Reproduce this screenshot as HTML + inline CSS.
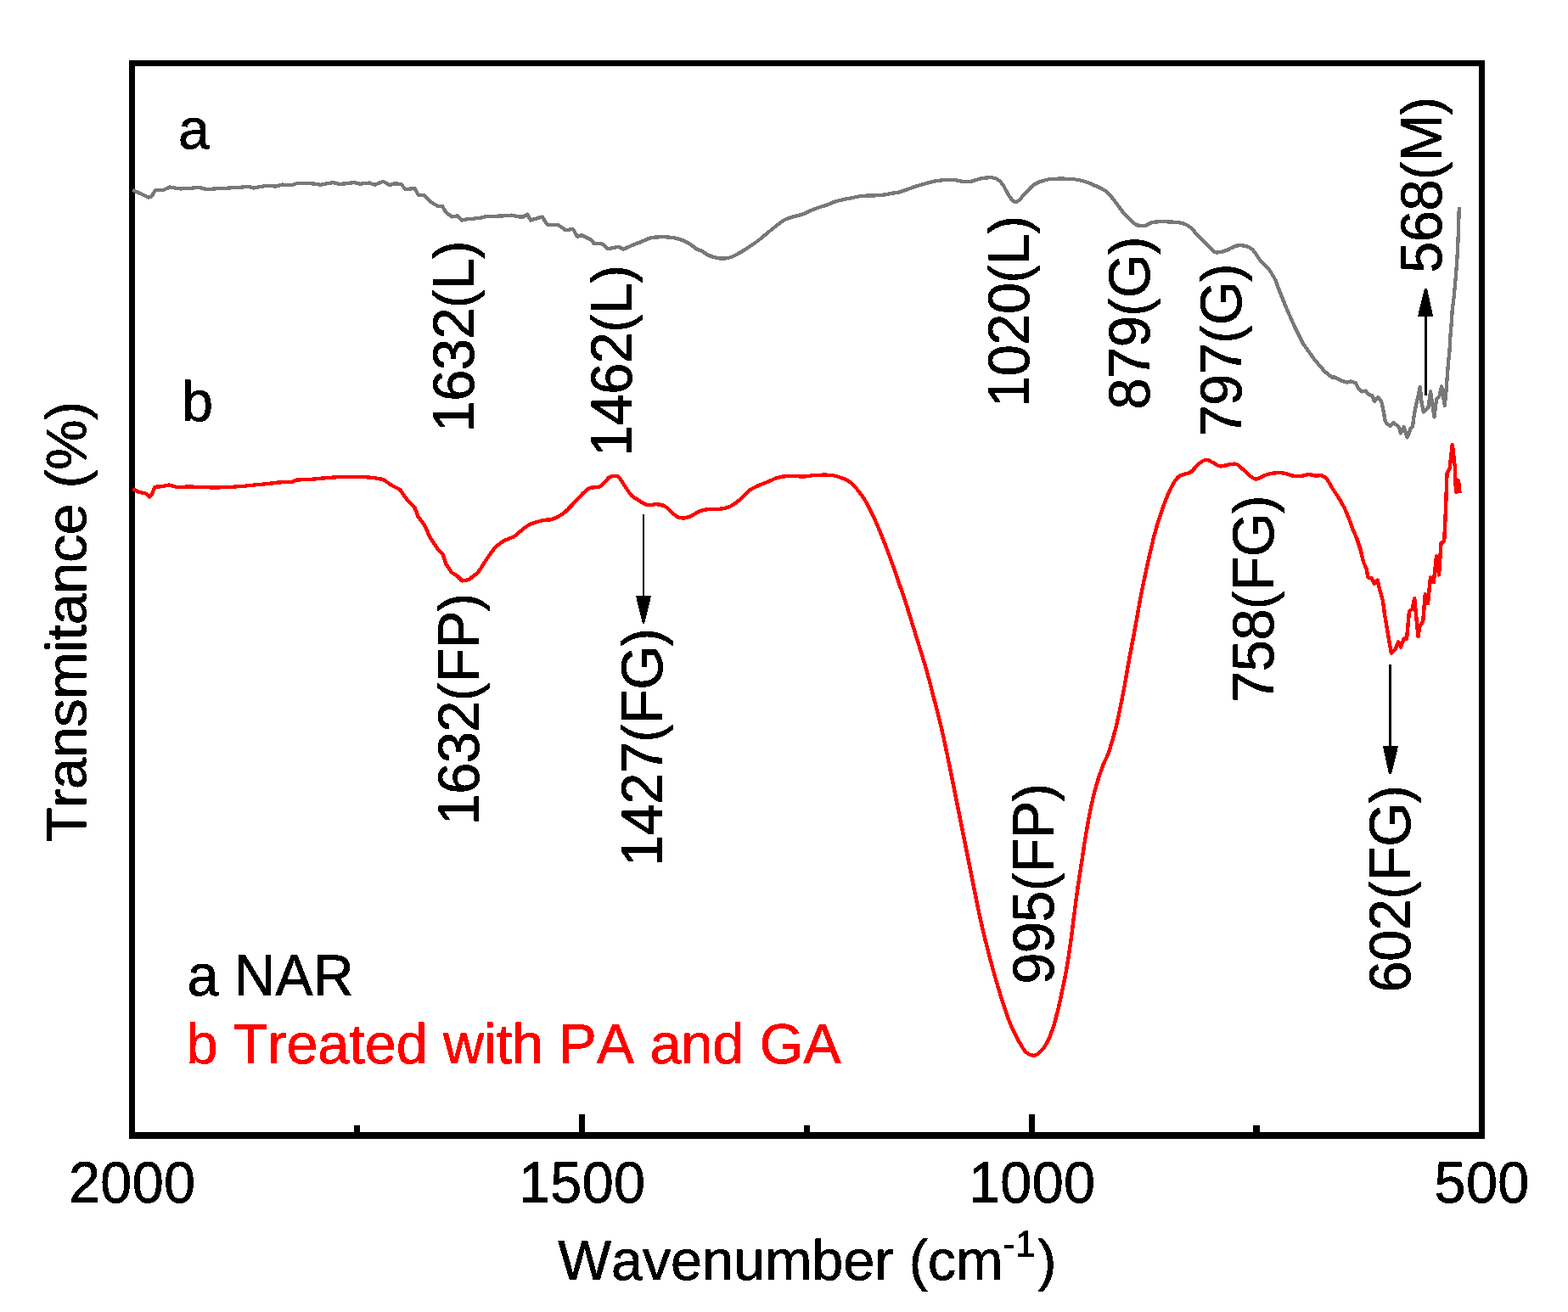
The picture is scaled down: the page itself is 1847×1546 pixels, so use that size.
<!DOCTYPE html>
<html lang="en">
<head>
<meta charset="utf-8">
<title>FTIR spectra: NAR and treated with PA and GA</title>
<style>
html,body{margin:0;padding:0;background:#ffffff;}
body{width:1847px;height:1546px;overflow:hidden;}
svg{display:block;}
text{font-family:"Liberation Sans", Arial, Helvetica, sans-serif;font-size:66.67px;fill:#000;stroke:#000;stroke-width:0.5px;stroke-linejoin:round;font-kerning:none;font-variant-ligatures:none;text-rendering:geometricPrecision;white-space:pre;}
.rot{letter-spacing:-0.5px;}
.red{fill:#ff0000;stroke:#ff0000;}
</style>
</head>
<body>
<svg width="1847" height="1546" viewBox="0 0 1847 1546">
<defs>
<filter id="crisp" filterUnits="userSpaceOnUse" x="0" y="0" width="1847" height="1546" color-interpolation-filters="sRGB">
<feComponentTransfer><feFuncA type="discrete" tableValues="0 0 1 1 1"/></feComponentTransfer>
</filter>
</defs>
<rect x="0" y="0" width="1847" height="1546" fill="#ffffff"/>
<g filter="url(#crisp)">
<rect x="155.5" y="74.5" width="1590" height="1263.5" fill="none" stroke="#000" stroke-width="7"/>
<rect x="152" y="1334" width="1597" height="8" fill="#000"/>
<rect x="682.0" y="1313" width="7" height="22" fill="#000"/>
<rect x="1212.0" y="1313" width="7" height="22" fill="#000"/>
<rect x="417" y="1326" width="7" height="9" fill="#000"/>
<rect x="947" y="1326" width="7" height="9" fill="#000"/>
<rect x="1476" y="1326" width="8" height="9" fill="#000"/>
<path d="M156.2 223.8L175.0 232.5L178.8 231.2L182.5 224.5L192.5 223.8L200.0 220.5L212.5 222.5L235.0 221.0L242.5 223.0L275.0 221.2L292.5 220.0L298.8 221.5L312.5 219.0L325.0 219.5L332.5 217.5L343.8 218.2L350.0 215.8L370.0 216.5L377.5 217.8L392.5 215.0L400.0 217.0L417.5 215.0L423.8 216.8L435.0 215.5L441.2 217.8L451.2 213.8L458.8 218.0L465.0 216.2L472.5 217.0L477.5 223.0L488.8 222.0L492.5 229.5L500.0 230.5L507.5 238.0L515.0 242.5L521.2 243.0L525.0 250.0L532.5 255.5L538.8 254.2L543.8 259.5L550.0 258.2L565.0 257.0L572.5 255.0L597.5 254.2L602.5 253.5L611.8 255.5L616.2 255.5L621.2 252.5L625.0 259.5L638.8 255.5L644.5 264.5L657.5 265.0L666.2 271.2L675.0 270.0L680.0 278.8L685.0 277.0L695.0 281.8L700.0 287.0L710.0 287.5L716.2 293.2L728.8 290.8L733.8 293.8L745.0 288.8C748.5 287.3 751.2 286.5 755.0 285.0C758.8 283.5 762.9 281.0 767.5 280.0C772.1 279.0 778.3 279.2 782.5 279.2C786.7 279.2 789.0 279.4 792.5 280.0C796.0 280.6 800.5 281.8 803.8 283.0C807.1 284.2 809.6 285.7 812.5 287.5C815.4 289.3 818.7 292.4 821.2 293.8C823.7 295.2 825.4 295.1 827.5 296.2C829.6 297.3 830.7 299.2 833.8 300.5C836.9 301.8 842.2 303.6 846.2 304.2C850.2 304.8 854.0 304.7 857.5 304.0C861.0 303.3 863.8 301.9 867.5 300.0C871.2 298.1 875.4 295.5 880.0 292.5C884.6 289.5 889.6 286.2 895.0 282.0C900.4 277.8 907.5 271.4 912.5 267.5C917.5 263.6 921.5 260.8 925.0 258.8C928.5 256.8 930.7 256.5 933.8 255.5C936.9 254.5 939.4 254.6 943.8 253.0C948.2 251.4 954.8 248.2 960.0 246.2C965.2 244.2 971.0 242.6 975.0 241.2C979.0 239.8 979.6 238.7 983.8 237.5C988.0 236.3 994.4 234.9 1000.0 233.8C1005.6 232.7 1011.2 231.4 1017.5 230.8C1023.8 230.2 1031.7 230.6 1037.5 230.0C1043.3 229.4 1048.8 228.1 1052.5 227.5C1056.2 226.9 1055.4 227.6 1060.0 226.2C1064.6 224.8 1072.7 221.4 1080.0 219.2C1087.3 217.0 1096.7 214.2 1103.8 213.0C1110.9 211.8 1117.5 211.9 1122.5 212.0C1127.5 212.1 1130.2 213.5 1133.8 213.8C1137.3 214.1 1140.3 214.4 1143.8 213.8C1147.3 213.2 1151.0 211.3 1155.0 210.5C1159.0 209.7 1164.2 209.1 1167.5 209.2C1170.8 209.3 1172.7 209.8 1175.0 211.2C1177.3 212.6 1179.1 214.6 1181.2 217.5C1183.3 220.4 1185.4 225.6 1187.5 228.8C1189.6 232.1 1191.9 235.6 1193.8 237.0C1195.7 238.4 1196.5 238.5 1198.8 237.0C1201.1 235.5 1204.4 231.2 1207.5 228.0C1210.6 224.8 1214.2 220.5 1217.5 218.0C1220.8 215.5 1223.8 214.4 1227.5 213.2C1231.2 212.0 1234.6 211.2 1240.0 210.8C1245.4 210.4 1254.2 210.4 1260.0 210.8C1265.8 211.2 1270.0 211.7 1275.0 213.0C1280.0 214.3 1285.2 216.6 1290.0 218.8C1294.8 221.0 1300.0 223.3 1303.8 226.2C1307.5 229.1 1309.2 232.0 1312.5 236.2C1315.8 240.4 1320.5 247.2 1323.8 251.2C1327.1 255.2 1330.0 257.7 1332.5 260.0C1335.0 262.3 1336.1 264.0 1338.8 265.0C1341.5 266.0 1345.7 266.3 1348.8 265.8C1351.9 265.3 1354.4 262.8 1357.5 262.0C1360.6 261.2 1362.5 261.2 1367.5 261.2C1372.5 261.2 1382.1 261.2 1387.5 262.0C1392.9 262.8 1396.2 263.8 1400.0 266.2C1403.8 268.6 1406.2 272.4 1410.0 276.2C1413.8 280.0 1419.0 285.3 1422.5 288.8C1426.0 292.3 1427.9 295.8 1431.2 297.0C1434.5 298.2 1438.5 297.0 1442.5 295.8C1446.5 294.6 1451.2 291.1 1455.0 290.0C1458.8 288.9 1461.7 288.9 1465.0 289.5C1468.3 290.1 1471.7 290.8 1475.0 293.8C1478.3 296.8 1481.7 303.6 1485.0 307.5C1488.3 311.4 1492.1 313.8 1495.0 317.5L1502.5 330.0L1505.0 337.5L1515.0 362.5L1525.0 385.0L1535.0 405.0L1547.5 422.5L1560.0 437.4L1568.7 444.4L1571.9 444.4L1580.6 448.7L1587.1 450.4L1591.4 449.3L1596.8 451.4L1600.1 457.9L1604.4 461.5L1608.7 460.6L1612.0 465.0L1616.3 466.1L1619.0 473.1L1623.3 468.2L1627.1 472.6L1629.3 482.3L1631.5 495.3L1633.6 499.6L1637.4 501.8L1641.2 498.0L1647.7 502.9L1649.9 510.4L1653.7 502.9L1657.5 515.3L1660.2 509.4L1661.2 505.0L1664.0 502.3L1666.1 486.6L1668.3 475.8L1670.4 467.1L1672.6 455.8L1674.8 475.8L1676.9 485.5L1682.4 480.1L1685.1 461.2L1687.2 475.8L1689.4 491.5L1692.1 470.4L1695.4 467.1L1698.1 455.2L1701.8 478.0L1703.7 457.7L1704.7 444.2L1705.9 428.7L1707.5 413.2L1708.3 397.6L1709.6 382.0L1710.6 366.6L1712.5 351.0L1714.0 335.5L1715.3 320.0L1717.0 295.0L1718.0 270.0L1718.8 243.8" fill="none" stroke="#787878" stroke-width="4.1" stroke-linejoin="round" stroke-linecap="butt"/>
<path d="M156.2 576.2L163.8 580.0L171.2 581.2L176.2 585.8L178.8 582.5L182.5 573.8L190.0 573.2L198.8 571.5L207.5 573.8L225.0 573.5L250.0 574.5C257.1 574.6 261.7 574.2 267.5 574.0C273.3 573.8 277.9 573.6 285.0 573.0C292.1 572.4 302.1 571.3 310.0 570.5C317.9 569.7 326.7 568.7 332.5 568.2C338.3 567.7 342.1 568.0 345.0 567.5C347.9 567.0 345.8 566.0 350.0 565.5C354.2 565.0 362.9 565.0 370.0 564.5C377.1 564.0 384.2 563.0 392.5 562.5C400.8 562.0 412.9 561.8 420.0 561.8C427.1 561.8 429.6 561.9 435.0 562.5C440.4 563.1 448.3 564.0 452.5 565.5L460.0 571.2L471.2 577.0L480.0 589.5L488.8 598.8L492.5 608.8L500.0 618.8L507.5 635.0L516.2 647.5L521.2 652.5L525.0 663.8L532.5 675.0L538.8 678.8L544.5 684.5L552.5 683.0L562.5 675.0C565.8 671.2 569.2 664.8 572.5 660.0C575.8 655.2 579.2 649.9 582.5 646.2C585.8 642.5 588.8 640.3 592.5 638.0C596.2 635.7 601.8 634.3 605.0 632.5C608.2 630.7 608.9 629.3 611.8 627.0C614.7 624.7 617.8 621.1 622.5 618.8C627.2 616.5 635.4 614.1 640.0 613.0C644.6 611.9 645.8 613.5 650.0 612.0C654.2 610.5 660.4 607.3 665.0 603.8C669.6 600.3 672.9 595.8 677.5 591.2C682.1 586.6 687.9 579.1 692.5 576.2C697.1 573.3 702.1 574.7 705.0 573.8C707.9 572.9 707.9 572.7 710.0 570.8C712.1 568.9 715.4 564.1 717.5 562.5C719.6 560.9 720.6 561.1 722.5 561.0C724.4 560.9 726.7 560.3 728.8 562.0C730.9 563.7 732.5 567.6 735.0 571.2C737.5 574.8 741.1 580.9 743.8 583.8C746.5 586.7 748.1 586.9 751.2 588.8C754.3 590.7 759.0 594.1 762.5 595.0C766.0 595.9 769.2 594.0 772.5 594.2C775.8 594.4 779.6 594.8 782.5 596.2C785.4 597.6 787.5 600.4 790.0 602.5C792.5 604.6 795.0 607.5 797.5 608.8C800.0 610.1 802.5 610.5 805.0 610.5C807.5 610.5 809.2 610.2 812.5 608.8C815.8 607.4 821.2 603.5 825.0 602.0C828.8 600.5 830.8 600.4 835.0 600.0C839.2 599.6 845.8 600.0 850.0 599.5C854.2 599.0 856.7 598.4 860.0 596.8C863.3 595.2 866.2 593.1 870.0 590.0C873.8 586.9 878.8 580.9 882.5 578.0C886.2 575.1 888.8 574.2 892.5 572.5C896.2 570.8 901.2 569.0 905.0 567.5C908.8 566.0 911.2 564.3 915.0 563.2C918.8 562.1 922.1 561.1 927.5 560.8C932.9 560.5 942.1 561.6 947.5 561.5C952.9 561.4 954.6 560.2 960.0 560.0C965.4 559.8 974.6 559.4 980.0 560.0C985.4 560.6 988.8 562.0 992.5 563.5C996.2 565.0 999.6 566.5 1002.5 568.8C1005.4 571.0 1007.1 573.3 1010.0 577.0C1012.9 580.7 1016.7 585.5 1020.0 591.2C1023.3 596.9 1026.7 603.9 1030.0 611.2C1033.3 618.5 1036.7 626.7 1040.0 635.0C1043.3 643.3 1046.7 652.0 1050.0 661.2C1053.3 670.4 1056.7 680.2 1060.0 690.0C1063.3 699.8 1066.7 709.6 1070.0 720.0C1073.3 730.4 1076.7 741.7 1080.0 752.5C1083.3 763.3 1086.7 773.3 1090.0 785.0C1093.3 796.7 1096.7 809.6 1100.0 822.5C1103.3 835.4 1107.5 852.0 1110.0 862.5C1112.5 873.0 1113.3 877.9 1115.0 885.8C1116.7 893.7 1117.9 899.7 1120.0 910.0C1122.1 920.3 1125.0 935.0 1127.5 947.5C1130.0 960.0 1132.5 972.5 1135.0 985.0C1137.5 997.5 1140.0 1010.0 1142.5 1022.5C1145.0 1035.0 1147.5 1047.9 1150.0 1060.0C1152.5 1072.1 1155.0 1084.2 1157.5 1095.0C1160.0 1105.8 1162.5 1115.4 1165.0 1125.0C1167.5 1134.6 1170.0 1143.8 1172.5 1152.5C1175.0 1161.2 1177.5 1169.6 1180.0 1177.5C1182.5 1185.4 1185.0 1193.3 1187.5 1200.0C1190.0 1206.7 1192.5 1212.3 1195.0 1217.5C1197.5 1222.7 1200.2 1227.5 1202.5 1231.2C1204.8 1235.0 1206.3 1237.9 1208.8 1240.0C1211.3 1242.1 1214.8 1243.8 1217.5 1243.8C1220.2 1243.8 1222.5 1242.3 1225.0 1240.0C1227.5 1237.7 1230.0 1234.6 1232.5 1230.0C1235.0 1225.4 1237.7 1219.2 1240.0 1212.5C1242.3 1205.8 1244.3 1197.5 1246.2 1190.0C1248.1 1182.5 1249.5 1175.4 1251.2 1167.5C1252.9 1159.6 1254.5 1152.1 1256.2 1142.5C1257.9 1132.9 1259.7 1120.4 1261.2 1110.0C1262.7 1099.6 1263.5 1091.2 1265.0 1080.0C1266.5 1068.8 1268.3 1054.2 1270.0 1042.5C1271.7 1030.8 1273.5 1019.6 1275.0 1010.0C1276.5 1000.4 1277.3 993.8 1278.8 985.0C1280.3 976.2 1282.1 965.8 1283.8 957.5C1285.5 949.2 1287.1 941.7 1288.8 935.0C1290.5 928.3 1291.9 923.3 1293.8 917.5C1295.7 911.7 1297.9 905.3 1300.0 900.0C1302.1 894.7 1303.7 893.3 1306.2 885.8C1308.7 878.3 1312.1 867.2 1315.0 855.0C1317.9 842.8 1321.3 825.4 1323.8 812.5C1326.3 799.6 1327.7 790.0 1330.0 777.5C1332.3 765.0 1335.2 750.0 1337.5 737.5C1339.8 725.0 1341.7 713.3 1343.8 702.5C1345.9 691.7 1348.1 681.2 1350.0 672.5C1351.9 663.8 1353.1 657.9 1355.0 650.0C1356.9 642.1 1359.1 632.5 1361.2 625.0C1363.3 617.5 1365.4 611.2 1367.5 605.0C1369.6 598.8 1371.5 593.1 1373.8 587.5C1376.1 581.9 1378.9 575.4 1381.2 571.2C1383.5 567.0 1385.6 564.5 1387.5 562.5C1389.4 560.5 1390.0 560.5 1392.5 559.5C1395.0 558.5 1399.2 558.4 1402.5 556.2C1405.8 554.0 1409.4 548.6 1412.5 546.2C1415.6 543.8 1418.5 542.2 1421.2 542.0C1423.9 541.8 1426.1 543.8 1428.8 545.0C1431.5 546.2 1434.0 549.2 1437.5 549.5C1441.0 549.8 1446.7 547.3 1450.0 547.0C1453.3 546.7 1454.6 546.0 1457.5 547.5C1460.4 549.0 1464.0 553.4 1467.5 556.2C1471.0 559.0 1475.0 563.9 1478.8 564.5C1482.5 565.1 1486.5 561.2 1490.0 560.0C1493.5 558.8 1496.2 557.9 1500.0 557.5C1503.8 557.1 1508.8 557.0 1512.5 557.5C1516.2 558.0 1519.4 559.9 1522.5 560.5C1525.6 561.1 1528.1 561.4 1531.2 561.2C1534.3 561.0 1538.1 559.3 1541.2 559.2C1544.3 559.1 1547.3 560.3 1550.0 560.5C1552.7 560.7 1555.2 559.7 1557.5 560.5C1559.8 561.3 1561.7 562.9 1563.8 565.5L1570.0 576.2L1577.5 587.5L1583.8 598.8L1590.0 613.8L1593.8 625.0L1597.5 632.5L1602.5 647.5L1606.2 662.5L1609.5 670.0L1611.5 680.5L1616.0 681.5L1619.0 688.0L1622.6 683.5L1625.0 694.0L1628.8 707.5L1631.2 725.0L1633.8 740.0L1636.2 755.0L1638.8 769.5L1643.8 764.5L1647.0 756.2L1650.0 762.5L1653.8 752.5L1657.0 753.0L1660.0 720.0L1663.8 717.5L1666.2 705.0L1668.8 732.5L1670.5 750.0L1672.5 737.5L1676.2 732.5L1678.8 700.0L1682.0 711.2L1685.0 680.0L1688.8 686.2L1692.0 655.0L1695.0 677.5L1697.5 640.0L1701.2 637.5L1703.0 600.0L1704.5 557.5L1707.5 552.5L1710.8 523.8L1713.8 550.0L1715.0 580.0L1718.0 566.2L1719.5 581.2" fill="none" stroke="#ff0000" stroke-width="4.2" stroke-linejoin="round" stroke-linecap="butt"/>
<text transform="translate(155.65,1417) scale(1,1.03)" text-anchor="middle" style="letter-spacing:0.3px">2000</text>
<text transform="translate(685.65,1417) scale(1,1.03)" text-anchor="middle" style="letter-spacing:0.3px">1500</text>
<text transform="translate(1215.65,1417) scale(1,1.03)" text-anchor="middle" style="letter-spacing:0.3px">1000</text>
<text transform="translate(1745.65,1417) scale(1,1.03)" text-anchor="middle" style="letter-spacing:0.3px">500</text>
<text x="657.2" y="1508" style="letter-spacing:-0.13px">Wavenumber (cm<tspan font-size="44" dy="-27.5">-1</tspan><tspan dy="27.5" dx="2">)</tspan></text>
<text transform="translate(101.25,991.9) rotate(-90)" style="letter-spacing:-0.45px">Transmitance (%)</text>
<text x="210" y="174.5">a</text>
<text x="214" y="495.6">b</text>
<text transform="translate(220.4,1172.5) scale(1,1.03)">a NAR</text>
<text x="219.45" y="1253" class="red" style="letter-spacing:-0.13px">b Treated with PA and GA</text>
<text class="rot" transform="translate(558.00,509.3) rotate(-90) scale(1,1.03)">1632<tspan font-size="63.4" dy="-0.9" style="letter-spacing:0.59px">(</tspan><tspan font-size="66.67" dy="0.9" style="letter-spacing:-0.50px">L</tspan><tspan font-size="63.4" dy="-0.9" style="letter-spacing:0.59px">)</tspan></text>
<text class="rot" transform="translate(743.80,538.0) rotate(-90) scale(1,1.03)">1462<tspan font-size="63.4" dy="-0.9" style="letter-spacing:0.59px">(</tspan><tspan font-size="66.67" dy="0.9" style="letter-spacing:-0.50px">L</tspan><tspan font-size="63.4" dy="-0.9" style="letter-spacing:0.59px">)</tspan></text>
<text class="rot" transform="translate(1211.80,479.8) rotate(-90) scale(1,1.03)">1020<tspan font-size="63.4" dy="-0.9" style="letter-spacing:0.59px">(</tspan><tspan font-size="66.67" dy="0.9" style="letter-spacing:-0.50px">L</tspan><tspan font-size="63.4" dy="-0.9" style="letter-spacing:0.59px">)</tspan></text>
<text class="rot" transform="translate(1354.20,482.5) rotate(-90) scale(1,1.03)">879<tspan font-size="63.4" dy="-0.9" style="letter-spacing:0.59px">(</tspan><tspan font-size="66.67" dy="0.9" style="letter-spacing:-0.50px">G</tspan><tspan font-size="63.4" dy="-0.9" style="letter-spacing:0.59px">)</tspan></text>
<text class="rot" transform="translate(1462.00,514.5) rotate(-90) scale(1,1.03)">797<tspan font-size="63.4" dy="-0.9" style="letter-spacing:0.59px">(</tspan><tspan font-size="66.67" dy="0.9" style="letter-spacing:-0.50px">G</tspan><tspan font-size="63.4" dy="-0.9" style="letter-spacing:0.59px">)</tspan></text>
<text class="rot" transform="translate(1697.60,321.7) rotate(-90) scale(1,1.03)">568<tspan font-size="63.4" dy="-0.9" style="letter-spacing:0.59px">(</tspan><tspan font-size="66.67" dy="0.9" style="letter-spacing:-0.50px">M</tspan><tspan font-size="63.4" dy="-0.9" style="letter-spacing:0.59px">)</tspan></text>
<text class="rot" transform="translate(563.80,972.4) rotate(-90) scale(1,1.03)">1632<tspan font-size="63.4" dy="-0.9" style="letter-spacing:0.59px">(</tspan><tspan font-size="66.67" dy="0.9" style="letter-spacing:-0.50px">FP</tspan><tspan font-size="63.4" dy="-0.9" style="letter-spacing:0.59px">)</tspan></text>
<text class="rot" transform="translate(779.60,1021.0) rotate(-90) scale(1,1.03)">1427<tspan font-size="63.4" dy="-0.9" style="letter-spacing:0.59px">(</tspan><tspan font-size="66.67" dy="0.9" style="letter-spacing:-0.50px">FG</tspan><tspan font-size="63.4" dy="-0.9" style="letter-spacing:0.59px">)</tspan></text>
<text class="rot" transform="translate(1241.20,1159.8) rotate(-90) scale(1,1.03)">995<tspan font-size="63.4" dy="-0.9" style="letter-spacing:0.59px">(</tspan><tspan font-size="66.67" dy="0.9" style="letter-spacing:-0.50px">FP</tspan><tspan font-size="63.4" dy="-0.9" style="letter-spacing:0.59px">)</tspan></text>
<text class="rot" transform="translate(1500.00,827.7) rotate(-90) scale(1,1.03)">758<tspan font-size="63.4" dy="-0.9" style="letter-spacing:0.59px">(</tspan><tspan font-size="66.67" dy="0.9" style="letter-spacing:-0.50px">FG</tspan><tspan font-size="63.4" dy="-0.9" style="letter-spacing:0.59px">)</tspan></text>
<text class="rot" transform="translate(1661.00,1169.4) rotate(-90) scale(1,1.03)">602<tspan font-size="63.4" dy="-0.9" style="letter-spacing:0.59px">(</tspan><tspan font-size="66.67" dy="0.9" style="letter-spacing:-0.50px">FG</tspan><tspan font-size="63.4" dy="-0.9" style="letter-spacing:0.59px">)</tspan></text>
<rect x="1678" y="373" width="3" height="93" fill="#000"/>
<polygon points="1670,373 1688,373 1681,340 1678,340" fill="#000"/>
<rect x="757" y="606" width="2" height="97" fill="#000"/>
<polygon points="749,702 767,702 759,735 757,735" fill="#000"/>
<rect x="1636" y="783" width="3" height="97" fill="#000"/>
<polygon points="1629,879 1647,879 1639,912 1636,912" fill="#000"/>
</g>
</svg>
</body>
</html>
